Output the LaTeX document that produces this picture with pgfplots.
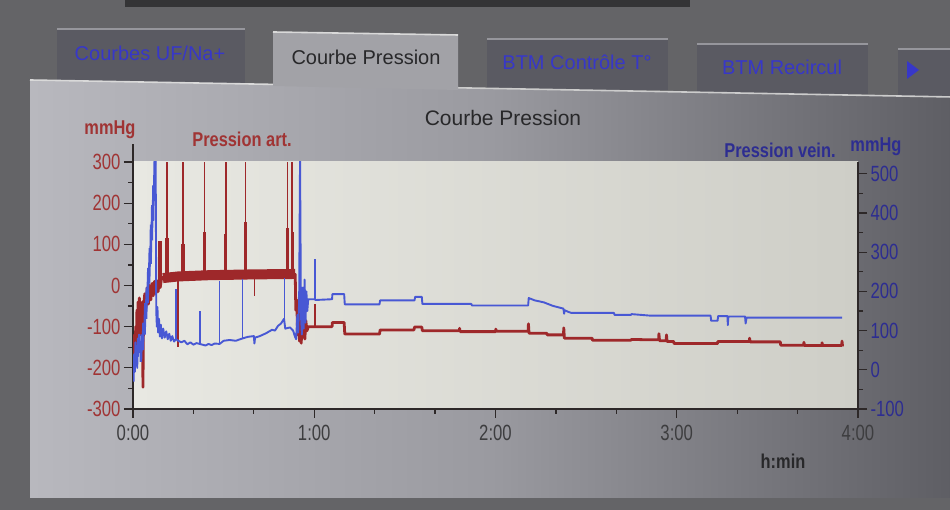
\documentclass[border=0pt]{standalone}
\usepackage{pgfplots}
\pgfplotsset{compat=1.18}
\usepackage{fontspec}
\setmainfont{Liberation Sans}
\newfontfamily\cond{Liberation Sans}[FakeStretch=0.82]
\newfontfamily\condn{Liberation Sans}[FakeStretch=0.76]

\definecolor{bgdark}{RGB}{100,100,103}
\definecolor{topdark}{RGB}{52,52,54}
\definecolor{panelL}{RGB}{184,184,190}
\definecolor{panelM}{RGB}{154,154,160}
\definecolor{panelR}{RGB}{94,94,100}
\definecolor{tabdark}{RGB}{90,90,98}
\definecolor{tabactive}{RGB}{162,162,167}
\definecolor{tabedge}{RGB}{150,150,156}
\definecolor{tabblue}{RGB}{55,55,200}
\definecolor{plotL}{RGB}{232,232,226}
\definecolor{plotR}{RGB}{206,206,199}
\definecolor{artred}{RGB}{158,40,42}
\definecolor{labred}{RGB}{160,52,52}
\definecolor{veinblue}{RGB}{72,88,212}
\definecolor{labblue}{RGB}{45,45,145}
\definecolor{axisdark}{RGB}{45,40,40}
\definecolor{textdark}{RGB}{40,40,42}

\begin{document}
\begin{tikzpicture}[x=1pt,y=1pt]
\useasboundingbox (0,0) rectangle (950,510);
\clip (0,0) rectangle (950,510);
\fill[bgdark] (0,0) rectangle (950,510);
\fill[topdark] (125,503) rectangle (690,512);

% inactive tabs
\fill[tabdark] (57,426) rectangle (245,482);
\fill[tabdark] (487,420) rectangle (668,472);
\fill[tabdark] (697,416) rectangle (868,467);
\fill[tabdark] (898,412) rectangle (952,462);
\draw[tabedge, line width=2pt] (57,481) -- (245,481);
\draw[tabedge, line width=2pt] (487,471) -- (668,471);
\draw[tabedge, line width=2pt] (697,466) -- (868,466);
\draw[tabedge, line width=2pt] (898,461) -- (952,461);

% panel
\shade[left color=panelL, right color=panelR, middle color=panelM]
  (30,430) -- (952,413) -- (952,12) -- (30,12) -- cycle;
\draw[white!70!gray, line width=1.6pt] (30,430) -- (273,425.6);
\draw[white!60!gray, line width=1.6pt] (458,422.2) -- (952,413);

% active tab
\fill[tabactive] (273,424) -- (273,478) -- (458,475) -- (458,420) -- cycle;
\draw[white!70!gray, line width=1.6pt] (273,478) -- (458,475);

% tab texts
\node[text=tabblue, font=\fontsize{20}{22}\selectfont] at (150,457) {Courbes UF/Na+};
\node[text=textdark, font=\fontsize{20}{22}\selectfont] at (366,453) {Courbe Pression};
\node[text=tabblue, font=\fontsize{20}{22}\selectfont] at (577,448) {BTM Contrôle T°};
\node[text=tabblue, font=\fontsize{20}{22}\selectfont] at (782,443) {BTM Recircul};
\fill[tabblue] (907,431) -- (907,449) -- (919,440) -- cycle;

% left axis: Pression art.
\begin{axis}[
  at={(133pt,101pt)}, anchor=south west,
  scale only axis, width=725pt, height=247pt,
  xmin=0, xmax=240, ymin=-300, ymax=300,
  axis x line*=bottom, axis y line*=left,
  axis line style={-},
  x axis line style={draw=axisdark, line width=1.3pt},
  y axis line style={draw=axisdark, line width=1.6pt, shorten >=-18pt},
  xtick={0,60,120,180,240},
  xticklabels={0:00,1:00,2:00,3:00,4:00},
  minor xtick={20,40,80,100,140,160,200,220},
  ytick={-300,-200,-100,0,100,200,300},
  yticklabels={-300,-200,-100,0,100,200,300},
  minor ytick={-250,-150,-50,50,150,250},
  tick align=outside,
  major tick length=9pt, minor tick length=5pt,
  tick style={draw=axisdark, line width=1.2pt},
  xticklabel style={font=\condn\fontsize{22}{24}\selectfont, text=textdark!90, yshift=-4pt},
  yticklabel style={font=\condn\fontsize{22}{24}\selectfont, text=labred},
  axis background/.style={left color=plotL, right color=plotR},
  unbounded coords=jump,
]
% main arterial trace
\addplot[artred, line width=2.8pt, line join=round] coordinates {
(0.3,-200) (0.5,-120) (0.7,-185) (0.9,-100) (1.1,-150) (1.3,-60) (1.5,-130)
(1.7,-40) (1.9,-110) (2.1,-30) (2.3,-120) (2.6,-50) (2.9,-110) (3.1,-40)
(3.3,-247) (3.5,-50) (3.9,-20) (4.3,-55) (4.7,-5) (5.1,-45) (5.5,0) (5.9,-35)
(6.3,5) (6.7,-25) (7.1,10) (7.5,-20) (7.9,12) (8.3,-15) (8.7,10) (9.0,-5)
(9.4,15) (9.9,20)
(53.7,27) (53.9,-60) (54.2,-35) (54.5,-120) (54.8,-40) (55.1,-135) (55.4,-50)
(55.7,-140) (56.0,-70) (56.3,-125) (56.6,-75) (56.9,-130) (57.2,-85)
(57.6,-110) (58.0,-100) (65.9,-100) (66.0,-90) (69.9,-90) (70.1,-118)
(81.6,-118) (81.8,-108) (93.0,-108) (93.2,-101) (95.6,-101) (95.8,-110)
(108,-110) (108.1,-104) (108.3,-112) (120,-112) (120.1,-106) (120.3,-111)
(130.8,-111) (130.9,-93) (131.1,-116) (137,-116) (137.1,-120) (142.5,-120)
(142.6,-103) (142.8,-128) (152,-128) (152.1,-133) (164.8,-133) (165,-131)
(171.4,-132) (174,-132) (174.1,-117) (174.3,-134) (176.5,-134) (176.6,-120)
(176.8,-136) (179,-136) (179.1,-141) (193.5,-141) (193.6,-136) (204,-136)
(204.1,-128) (204.3,-137) (214.3,-137) (214.4,-145) (222,-145) (222.1,-138)
(222.3,-146) (228,-146) (228.1,-139) (228.3,-146) (234.6,-146) (234.7,-135)
(234.9,-148)
};
% noisy plateau 0:10 - 0:54
\addplot[artred, line width=10pt] coordinates {
(9.9,18) (15,22) (25,25) (40,27) (53.7,28)
};
% spikes
\addplot[artred, line width=1.6pt] coordinates {
(9.0,0) (9.0,107) (9.0,nan)
(11.2,20) (11.2,300) (11.2,nan)
(14.8,22) (14.8,-150) (14.8,nan)
(16.5,22) (16.5,300) (16.5,nan)
(23.7,25) (23.7,300) (23.7,nan)
(30.7,25) (30.7,300) (30.7,nan)
(37.3,26) (37.3,300) (37.3,nan)
(40.2,26) (40.2,-25) (40.2,nan)
(51.1,27) (51.1,300) (51.1,nan)
(52.7,27) (52.7,300) (52.7,nan)
(60.3,-100) (60.3,-45)
};
\addplot[artred, line width=3.4pt] coordinates {
(9.0,0) (9.0,107) (9.0,nan)
(11.2,20) (11.2,115) (11.2,nan)
(16.5,22) (16.5,100) (16.5,nan)
(23.7,25) (23.7,130) (23.7,nan)
(30.7,25) (30.7,125) (30.7,nan)
(37.3,26) (37.3,155) (37.3,nan)
(51.1,27) (51.1,140) (51.1,nan)
(52.7,27) (52.7,130)
};
\end{axis}

% right axis: Pression vein.
\begin{axis}[
  at={(133pt,101pt)}, anchor=south west,
  scale only axis, width=725pt, height=247pt,
  xmin=0, xmax=240, ymin=-100, ymax=530,
  axis x line=none, axis y line*=right,
  axis line style={-},
  y axis line style={draw=axisdark, line width=1.6pt},
  ytick={-100,0,100,200,300,400,500},
  yticklabels={-100,0,100,200,300,400,500},
  minor ytick={-50,50,150,250,350,450},
  tick align=outside,
  major tick length=9pt, minor tick length=5pt,
  tick style={draw=axisdark, line width=1.2pt},
  yticklabel style={font=\condn\fontsize{22}{24}\selectfont, text=labblue},
  unbounded coords=jump,
]
\addplot[veinblue, line width=1.9pt, line join=round] coordinates {
(0.2,-30) (0.4,40) (0.6,-5) (0.8,70) (1.0,15) (1.2,60) (1.4,5) (1.6,80)
(1.8,35) (2.0,90) (2.3,45) (2.6,60) (5,nan)
(7.5,540) (7.7,150) (7.9,110) (8.1,160) (8.3,95) (8.6,130) (8.9,85) (9.2,115)
(9.6,80) (10.0,105) (10.5,82) (11.0,98) (11.5,78) (12.0,92) (12.5,74)
(13.0,86) (13.6,72) (14.2,78) (15,74) (16,70) (17,74) (18,65) (19,70) (20,64)
(21,68) (22.1,66) (23,64) (24,62) (25,66) (26,63) (27,67) (28.7,66) (30,74)
(32,76) (34,74) (36.3,80) (38,84) (40.0,86) (40.2,67) (40.4,82) (42,86)
(44,93) (46,102) (47,100) (48,112) (49,118) (50.0,130) (50.4,105) (52.0,108)
(53.0,100) (53.6,85) (54.0,78) (54.4,140) (54.7,95) (55.0,180) (55.3,540)
(55.6,140) (55.9,90) (56.2,210) (56.5,105) (56.8,230) (57.1,120) (57.4,200)
(57.7,150) (58.0,180) (60.2,180) (60.4,178) (65.9,180) (66.0,193) (69.9,193)
(70.1,167) (81.6,167) (81.8,177) (93.2,177) (93.4,186) (95.6,186) (95.8,168)
(112,168) (112.2,164) (130.8,164) (131.0,183) (133,177) (136,172) (139,163)
(142.5,156) (142.7,143) (142.9,152) (144,148) (145.1,145) (159.2,145)
(159.4,140) (164.8,140) (165,142) (171.4,138) (191.2,138) (191.4,125)
(193.5,125) (193.7,137) (196.8,137) (196.9,114) (197.1,136) (202.6,136)
(202.8,118) (203.1,133) (234.7,133)
};
% fast initial rise
\addplot[veinblue, line width=2.6pt] coordinates {
(2.6,20) (2.9,90) (3.2,50) (3.5,120) (3.8,90) (4.1,170) (4.3,130) (4.6,210)
(4.8,170) (5.1,260) (5.3,220) (5.6,310) (5.8,270) (6.0,370) (6.2,330)
(6.4,420) (6.6,380) (6.8,470) (7.0,430) (7.2,530) (7.4,540)
};
% spikes
\addplot[veinblue, line width=1.5pt] coordinates {
(14.2,78) (14.2,206) (14.2,nan)
(22.1,66) (22.1,150) (22.1,nan)
(28.7,66) (28.7,226) (28.7,nan)
(36.3,80) (36.3,231) (36.3,nan)
(50.1,128) (50.1,235) (50.1,nan)
(60.3,180) (60.3,282)
};
\end{axis}

% titles and units
\node[text=textdark, font=\fontsize{21}{24}\selectfont] at (503,392) {Courbe Pression};
\node[text=labred, font=\cond\bfseries\fontsize{20}{22}\selectfont] at (110,380) {mmHg};
\node[text=labred, font=\cond\bfseries\fontsize{20}{22}\selectfont] at (242,371) {Pression art.};
\node[text=labblue, font=\cond\bfseries\fontsize{20}{22}\selectfont] at (780,360) {Pression vein.};
\node[text=labblue, font=\cond\bfseries\fontsize{20}{22}\selectfont] at (876,363) {mmHg};
\node[text=textdark, font=\cond\bfseries\fontsize{20}{22}\selectfont] at (783,49) {h:min};
\end{tikzpicture}
\end{document}
